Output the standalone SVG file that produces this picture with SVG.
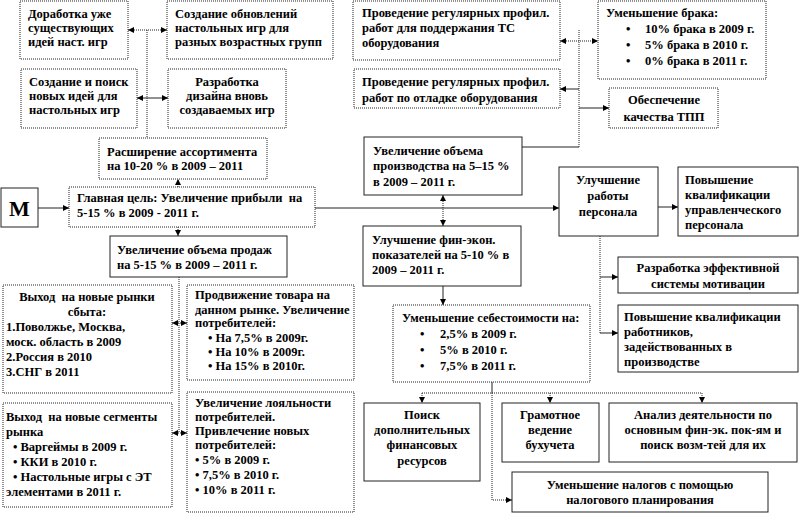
<svg xmlns="http://www.w3.org/2000/svg" width="800" height="515" viewBox="0 0 800 515">
<style>
.d{fill:#fff;stroke:#222;stroke-width:1;stroke-dasharray:1 1}
.s{fill:#fff;stroke:#222;stroke-width:1}
text{font-family:"Liberation Serif","Times New Roman",serif;font-weight:bold;font-size:12.5px;fill:#000}
.c{text-anchor:middle}
.ln{fill:none;stroke:#222;stroke-width:1}
.dl{fill:none;stroke:#222;stroke-width:1;stroke-dasharray:1 1}
</style>
<defs>
<marker id="a" markerUnits="userSpaceOnUse" markerWidth="6" markerHeight="6" refX="6" refY="3" orient="auto-start-reverse"><path d="M0,0 L6,3 L0,6 z" fill="#000"/></marker>
</defs>
<rect width="800" height="515" fill="#fff"/>
<g id="connectors">
<path class="dl" d="M147,30 V138"/>
<path class="dl" d="M128,30 H167" marker-start="url(#a)" marker-end="url(#a)"/>
<path class="ln" d="M137,98 H168" marker-start="url(#a)" marker-end="url(#a)"/>
<path class="dl" d="M178,187 V179" marker-end="url(#a)"/>
<path class="dl" d="M178,227 V236" marker-end="url(#a)"/>
<path class="ln" d="M38,208 H69" marker-end="url(#a)"/>
<path class="dl" d="M179,277 V433"/>
<path class="dl" d="M172,323 H187" marker-start="url(#a)" marker-end="url(#a)"/>
<path class="dl" d="M172,433 H187" marker-start="url(#a)" marker-end="url(#a)"/>
<path class="ln" d="M315,208 H559" marker-end="url(#a)"/>
<path class="dl" d="M443,195 V226" marker-start="url(#a)" marker-end="url(#a)"/>
<path class="ln" d="M443,286 V305" marker-end="url(#a)"/>
<path class="ln" d="M492,382 V393"/>
<path class="dl" d="M422,393 H702"/>
<path class="dl" d="M422,393 V403" marker-end="url(#a)"/>
<path class="dl" d="M550,393 V403" marker-end="url(#a)"/>
<path class="dl" d="M702,393 V403" marker-end="url(#a)"/>
<path class="dl" d="M492,393 V500 H512" marker-end="url(#a)"/>
<path class="ln" d="M522,147 H579"/>
<path class="dl" d="M579,30 V147"/>
<path class="dl" d="M560,41 H598" marker-start="url(#a)" marker-end="url(#a)"/>
<path class="ln" d="M579,89 H560" marker-end="url(#a)"/>
<path class="ln" d="M579,108 H609" marker-end="url(#a)"/>
<path class="ln" d="M658,207 H678" marker-end="url(#a)"/>
<path class="dl" d="M600,236 V333"/>
<path class="ln" d="M600,277 H618" marker-end="url(#a)"/>
<path class="ln" d="M600,333 H618" marker-end="url(#a)"/>
</g>
<g id="n1"><rect class="d" x="20" y="1" width="108" height="58"/>
<text x="28" y="18">Доработка уже</text><text x="28" y="32">существующих</text><text x="28" y="46">идей наст. игр</text></g>
<g id="n2"><rect class="d" x="167" y="1" width="166" height="58"/>
<text x="175" y="18">Создание обновлений</text><text x="175" y="32">настольных игр для</text><text x="175" y="46">разных возрастных групп</text></g>
<g id="n3"><rect class="d" x="21" y="69" width="116" height="59"/>
<text x="29" y="86">Создание и поиск</text><text x="29" y="100">новых идей для</text><text x="29" y="114">настольных игр</text></g>
<g id="n4"><rect class="d" x="168" y="69" width="118" height="59"/>
<text class="c" x="227" y="86">Разработка</text><text class="c" x="227" y="100">дизайна вновь</text><text class="c" x="227" y="114">создаваемых игр</text></g>
<g id="n5"><rect class="d" x="99" y="138" width="168" height="41"/>
<text x="107" y="156">Расширение ассортимента</text><text x="107" y="170">на 10-20 % в 2009 – 2011</text></g>
<g id="m"><rect class="s" x="1" y="188" width="37" height="39"/>
<text class="c" x="19.5" y="216" style="font-size:22px">М</text></g>
<g id="main"><rect class="d" x="69" y="187" width="246" height="40"/>
<text x="77" y="202" xml:space="preserve">Главная цель: Увеличение прибыли  на</text><text x="77" y="217">5-15 % в 2009 - 2011 г.</text></g>
<g id="sales"><rect class="s" x="110" y="236" width="177" height="41"/>
<text x="117" y="254">Увеличение объема продаж</text><text x="117" y="269">на 5-15 % в 2009 – 2011 г.</text></g>
<g id="rynki"><rect class="d" x="3" y="285" width="169" height="108"/>
<text class="c" x="87" y="301" xml:space="preserve">Выход  на новые рынки</text><text class="c" x="87" y="316">сбыта:</text>
<text x="6" y="331">1.Поволжье, Москва,</text><text x="6" y="346">моск. область в 2009</text><text x="6" y="361">2.Россия в 2010</text><text x="6" y="376">3.СНГ в 2011</text></g>
<g id="segm"><rect class="d" x="3" y="403" width="169" height="104"/>
<text x="6" y="421" xml:space="preserve">Выход  на новые сегменты</text><text x="6" y="436">рынка</text>
<text x="13" y="451">• Варгеймы в 2009 г.</text><text x="13" y="466">• ККИ в 2010 г.</text><text x="13" y="481">• Настольные игры с ЭТ</text><text x="6" y="496">элементами в 2011 г.</text></g>
<g id="prodv"><rect class="d" x="187" y="285" width="167" height="95"/>
<text x="195" y="299">Продвижение товара на</text><text x="195" y="314">данном рынке. Увеличение</text><text x="195" y="327">потребителей:</text>
<text x="208" y="342">• На 7,5% в 2009г.</text><text x="208" y="356">• На 10% в 2009г.</text><text x="208" y="370">• На 15% в 2010г.</text></g>
<g id="loyal"><rect class="d" x="187" y="392" width="167" height="120"/>
<text x="195" y="407">Увеличение лояльности</text><text x="195" y="421">потребителей.</text><text x="195" y="435">Привлечение новых</text><text x="195" y="449">потребителей:</text>
<text x="195" y="464">• 5% в 2009 г.</text><text x="195" y="479">• 7,5% в 2010 г.</text><text x="195" y="494">• 10% в 2011 г.</text></g>
<g id="ts"><rect class="d" x="353" y="1" width="207" height="59"/>
<text x="362" y="17">Проведение регулярных профил.</text><text x="362" y="32">работ для поддержания ТС</text><text x="362" y="47">оборудования</text></g>
<g id="otl"><rect class="d" x="354" y="69" width="206" height="39"/>
<text x="362" y="86">Проведение регулярных профил.</text><text x="362" y="102">работ по отладке оборудования</text></g>
<g id="brak"><rect class="d" x="598" y="1" width="168" height="78"/>
<text x="606" y="17">Уменьшение брака:</text>
<text x="626" y="33">•</text><text x="645" y="33">10% брака в 2009 г.</text>
<text x="626" y="49">•</text><text x="645" y="49">5% брака в 2010 г.</text>
<text x="626" y="65">•</text><text x="645" y="65">0% брака в 2011 г.</text></g>
<g id="tpp"><rect class="d" x="609" y="88" width="109" height="40"/>
<text class="c" x="664" y="104">Обеспечение</text><text class="c" x="664" y="121">качества ТПП</text></g>
<g id="prod"><rect class="s" x="364" y="137" width="158" height="58"/>
<text x="373" y="155">Увеличение объема</text><text x="373" y="170">производства на 5–15 %</text><text x="373" y="186">в 2009 – 2011 г.</text></g>
<g id="fin"><rect class="s" x="363" y="226" width="158" height="60"/>
<text x="372" y="244">Улучшение фин-экон.</text><text x="372" y="259">показателей на 5-10 % в</text><text x="372" y="274">2009 – 2011 г.</text></g>
<g id="pers"><rect class="s" x="559" y="167" width="99" height="69"/>
<text class="c" x="608" y="184">Улучшение</text><text class="c" x="608" y="200">работы</text><text class="c" x="608" y="216">персонала</text></g>
<g id="kval"><rect class="s" x="678" y="167" width="120" height="69"/>
<text x="685" y="184">Повышение</text><text x="685" y="199">квалификации</text><text x="685" y="214">управленческого</text><text x="685" y="229">персонала</text></g>
<g id="motiv"><rect class="s" x="618" y="257" width="180" height="36"/>
<text class="c" x="708" y="272">Разработка эффективной</text><text class="c" x="708" y="288">системы мотивации</text></g>
<g id="rab"><rect class="s" x="618" y="305" width="180" height="67"/>
<text x="624" y="321">Повышение квалификации</text><text x="624" y="336">работников,</text><text x="624" y="351">задействованных в</text><text x="624" y="366">производстве</text></g>
<g id="self"><rect class="d" x="393" y="305" width="197" height="77"/>
<text x="402" y="322">Уменьшение себестоимости на:</text>
<text x="420" y="338">•</text><text x="440" y="338">2,5% в 2009 г.</text>
<text x="420" y="354">•</text><text x="440" y="354">5% в 2010 г.</text>
<text x="420" y="370">•</text><text x="440" y="370">7,5% в 2011 г.</text></g>
<g id="poisk"><rect class="s" x="364" y="403" width="116" height="78"/>
<text class="c" x="422" y="419">Поиск</text><text class="c" x="422" y="434">дополнительных</text><text class="c" x="422" y="449">финансовых</text><text class="c" x="422" y="465">ресурсов</text></g>
<g id="gram"><rect class="s" x="502" y="403" width="97" height="59"/>
<text class="c" x="550" y="419">Грамотное</text><text class="c" x="550" y="434">ведение</text><text class="c" x="550" y="449">бухучета</text></g>
<g id="anal"><rect class="s" x="609" y="403" width="188" height="59"/>
<text class="c" x="703" y="419">Анализ деятельности по</text><text class="c" x="703" y="434">основным фин-эк. пок-ям и</text><text class="c" x="703" y="449">поиск возм-тей для их</text></g>
<g id="nalog"><rect class="s" x="512" y="472" width="256" height="40"/>
<text class="c" x="640" y="489">Уменьшение налогов с помощью</text><text class="c" x="640" y="504">налогового планирования</text></g>
</svg>
